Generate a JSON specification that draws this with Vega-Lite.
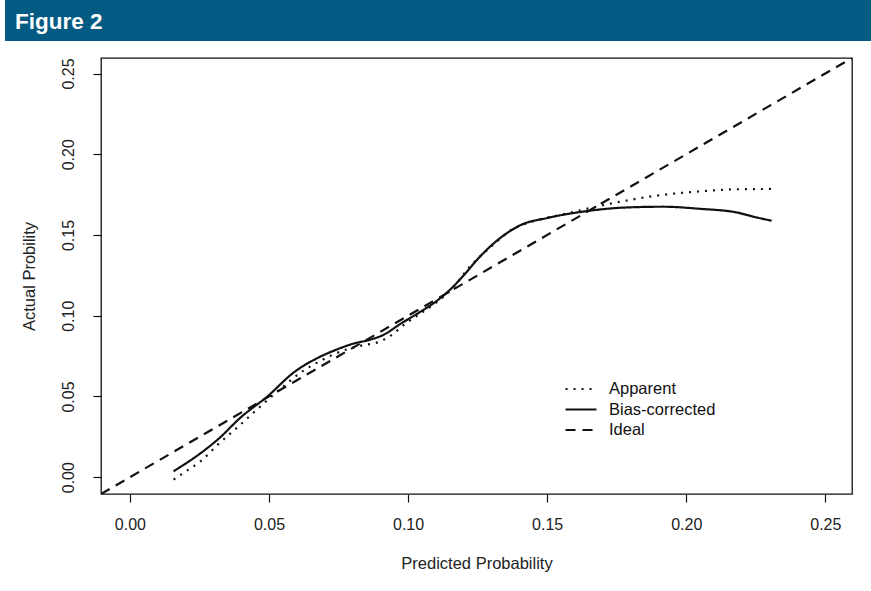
{
  "$schema": "https://vega.github.io/schema/vega-lite/v6.json",
  "padding": {"left": 5, "top": 0, "right": 0, "bottom": 5},
  "background": "white",
  "spacing": 17,
  "bounds": "flush",
  "config": {
    "font": "Liberation Sans",
    "view": {"stroke": "#111", "strokeWidth": 1.3}
  },
  "vconcat": [
    {
      "width": 866,
      "height": 41,
      "view": {"fill": "#035a82", "stroke": null},
      "title": {
        "text": "Figure 2",
        "anchor": "start",
        "frame": "group",
        "orient": "top",
        "offset": -51,
        "dx": 10,
        "baseline": "alphabetic",
        "color": "white",
        "font": "Liberation Sans",
        "fontSize": 22.5,
        "fontWeight": "bold"
      },
      "data": {"values": []},
      "mark": {"type": "rect", "color": "#035a82"},
      "encoding": {}
    },
    {
      "bounds": "flush",
      "spacing": 0,
      "hconcat": [
        {
          "width": 96,
          "height": 436,
          "view": {"stroke": null},
          "data": {"values": []},
          "mark": {"type": "rect"},
          "encoding": {}
        },
        {
          "width": 751,
          "height": 436,
          "data": {
            "values": [
              {"series": "Apparent", "x": 0.0157, "y": -0.0015},
              {"series": "Apparent", "x": 0.0200, "y": 0.0035},
              {"series": "Apparent", "x": 0.0255, "y": 0.0100},
              {"series": "Apparent", "x": 0.0315, "y": 0.0200},
              {"series": "Apparent", "x": 0.0400, "y": 0.0330},
              {"series": "Apparent", "x": 0.0470, "y": 0.0440},
              {"series": "Apparent", "x": 0.0550, "y": 0.0560},
              {"series": "Apparent", "x": 0.0620, "y": 0.0655},
              {"series": "Apparent", "x": 0.0690, "y": 0.0725},
              {"series": "Apparent", "x": 0.0760, "y": 0.0780},
              {"series": "Apparent", "x": 0.0830, "y": 0.0815},
              {"series": "Apparent", "x": 0.0890, "y": 0.0835},
              {"series": "Apparent", "x": 0.0940, "y": 0.0880},
              {"series": "Apparent", "x": 0.0990, "y": 0.0950},
              {"series": "Apparent", "x": 0.1050, "y": 0.1020},
              {"series": "Apparent", "x": 0.1100, "y": 0.1080},
              {"series": "Apparent", "x": 0.1160, "y": 0.1170},
              {"series": "Apparent", "x": 0.1220, "y": 0.1300},
              {"series": "Apparent", "x": 0.1300, "y": 0.1430},
              {"series": "Apparent", "x": 0.1370, "y": 0.1530},
              {"series": "Apparent", "x": 0.1450, "y": 0.1585},
              {"series": "Apparent", "x": 0.1550, "y": 0.1625},
              {"series": "Apparent", "x": 0.1650, "y": 0.1665},
              {"series": "Apparent", "x": 0.1760, "y": 0.1705},
              {"series": "Apparent", "x": 0.1900, "y": 0.1745},
              {"series": "Apparent", "x": 0.2050, "y": 0.1770},
              {"series": "Apparent", "x": 0.2180, "y": 0.1783},
              {"series": "Apparent", "x": 0.2307, "y": 0.1785},
              {"series": "Bias-corrected", "x": 0.0157, "y": 0.0037},
              {"series": "Bias-corrected", "x": 0.0255, "y": 0.0150},
              {"series": "Bias-corrected", "x": 0.0320, "y": 0.0240},
              {"series": "Bias-corrected", "x": 0.0398, "y": 0.0370},
              {"series": "Bias-corrected", "x": 0.0494, "y": 0.0500},
              {"series": "Bias-corrected", "x": 0.0590, "y": 0.0650},
              {"series": "Bias-corrected", "x": 0.0686, "y": 0.0748},
              {"series": "Bias-corrected", "x": 0.0750, "y": 0.0795},
              {"series": "Bias-corrected", "x": 0.0805, "y": 0.0828},
              {"series": "Bias-corrected", "x": 0.0860, "y": 0.0850},
              {"series": "Bias-corrected", "x": 0.0910, "y": 0.0880},
              {"series": "Bias-corrected", "x": 0.0973, "y": 0.0950},
              {"series": "Bias-corrected", "x": 0.1040, "y": 0.1020},
              {"series": "Bias-corrected", "x": 0.1092, "y": 0.1078},
              {"series": "Bias-corrected", "x": 0.1150, "y": 0.1160},
              {"series": "Bias-corrected", "x": 0.1200, "y": 0.1250},
              {"series": "Bias-corrected", "x": 0.1250, "y": 0.1350},
              {"series": "Bias-corrected", "x": 0.1296, "y": 0.1430},
              {"series": "Bias-corrected", "x": 0.1350, "y": 0.1505},
              {"series": "Bias-corrected", "x": 0.1403, "y": 0.1560},
              {"series": "Bias-corrected", "x": 0.1500, "y": 0.1605},
              {"series": "Bias-corrected", "x": 0.1643, "y": 0.1648},
              {"series": "Bias-corrected", "x": 0.1780, "y": 0.1670},
              {"series": "Bias-corrected", "x": 0.1917, "y": 0.1675},
              {"series": "Bias-corrected", "x": 0.2050, "y": 0.1662},
              {"series": "Bias-corrected", "x": 0.2180, "y": 0.1640},
              {"series": "Bias-corrected", "x": 0.2250, "y": 0.1610},
              {"series": "Bias-corrected", "x": 0.2307, "y": 0.1588},
              {"series": "Ideal", "x": -0.0104, "y": -0.0104},
              {"series": "Ideal", "x": 0.2596, "y": 0.2596}
            ]
          },
          "mark": {"type": "line", "interpolate": "monotone", "color": "#111", "strokeWidth": 2.2, "strokeCap": "butt", "clip": true},
          "encoding": {
            "x": {
              "field": "x", "type": "quantitative",
              "scale": {"domain": [-0.0104, 0.2596], "nice": false, "zero": false},
              "axis": {
                "title": "Predicted Probability",
                "values": [0, 0.05, 0.1, 0.15, 0.2, 0.25],
                "format": ".2f",
                "grid": false, "domain": false,
                "tickSize": 8, "tickColor": "#111", "tickWidth": 1.2,
                "labelFontSize": 16, "labelColor": "#222", "labelPadding": 14,
                "titleFontSize": 16.5, "titleFontWeight": "normal", "titleColor": "#222", "titlePadding": 23
              }
            },
            "y": {
              "field": "y", "type": "quantitative",
              "scale": {"domain": [-0.0104, 0.2596], "nice": false, "zero": false},
              "axis": {
                "title": "Actual Probility",
                "values": [0, 0.05, 0.1, 0.15, 0.2, 0.25],
                "format": ".2f",
                "grid": false, "domain": false,
                "tickSize": 8, "tickColor": "#111", "tickWidth": 1.2,
                "labelAngle": -90, "labelAlign": "center", "labelBaseline": "bottom",
                "labelFontSize": 16, "labelColor": "#222", "labelPadding": 17,
                "titleFontSize": 16.5, "titleFontWeight": "normal", "titleColor": "#222", "titlePadding": 23
              }
            },
            "strokeDash": {
              "field": "series", "type": "nominal",
              "scale": {"domain": ["Apparent", "Bias-corrected", "Ideal"], "range": [[2, 6], [1, 0], [10, 7]]},
              "legend": {
                "title": null,
                "orient": "none",
                "legendX": 567,
                "legendY": 380,
                "padding": 0,
                "symbolType": "M-2,0H2",
                "symbolSize": 240,
                "symbolStrokeColor": "#111",
                "symbolStrokeWidth": 2.2,
                "labelFontSize": 16.5,
                "labelColor": "#111",
                "labelOffset": 19,
                "rowPadding": 2.5
              }
            }
          }
        }
      ]
    }
  ]
}
